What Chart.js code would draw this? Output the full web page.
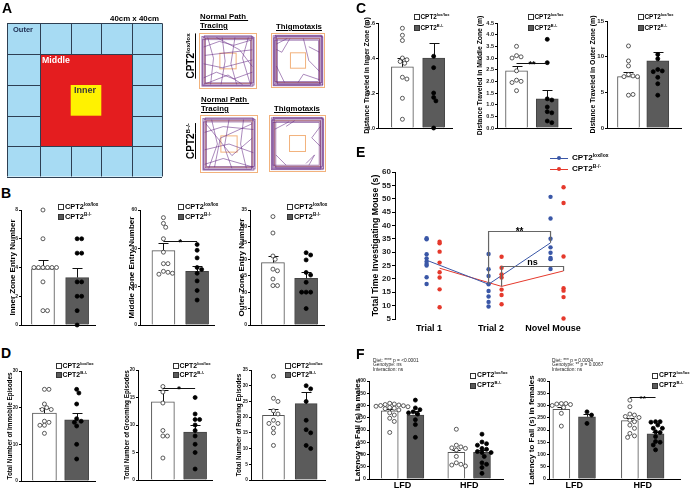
<!DOCTYPE html>
<html><head><meta charset="utf-8">
<script src="https://cdn.jsdelivr.net/npm/chart.js@4.4.1/dist/chart.umd.min.js"></script>
<style>
html,body{margin:0;padding:0;background:#fff;}
body{width:695px;height:490px;overflow:hidden;position:relative;font-family:"Liberation Sans",Arial,Helvetica,sans-serif;color:#000;}
.t{position:absolute;white-space:nowrap;font-weight:bold;line-height:1;}
.u{text-decoration:underline;}
.sp{font-size:62%;position:relative;top:-0.6em;}
canvas{display:block;}
</style></head><body>
<script>
// ---------------- DATA ----------------
const genoBase = 'CPT2';
const genoSup = ['lox/lox', 'B-/-'];

// Panel B
const bInnerLox = [8, 6, 4, 4, 4, 4, 4, 4, 3, 1, 1];
const bInnerKo = [6, 6, 5, 5, 3, 3, 2, 2, 1, 0];
const bInnerMean = [3.9, 3.3];
const bInnerSem = [0.65, 0.68];
const bMiddleLox = [56, 53, 51, 45, 38, 32, 32, 28, 27.5, 26.5, 27];
const bMiddleKo = [42, 39, 35, 30, 29, 27, 23, 18, 13];
const bMiddleMean = [38.8, 28];
const bMiddleSem = [3.8, 2.6];
const bOuterLox = [33, 28, 21, 20, 17, 16.5, 14, 12, 12];
const bOuterKo = [22, 21.3, 19.8, 16, 15.2, 13, 10, 10, 10, 5];
const bOuterMean = [19, 14.2];
const bOuterSem = [2.1, 1.8];

// Panel C
const cInnerLox = [0.57, 0.53, 0.50, 0.40, 0.39, 0.38, 0.37, 0.29, 0.28, 0.17, 0.05];
const cInnerKo = [0.41, 0.345, 0.20, 0.175, 0.155, 0.0];
const cInnerMean = [0.35, 0.40];
const cInnerSem = [0.05, 0.085];
const cMiddleLox = [3.5, 3.1, 3.05, 3.0, 2.45, 2.05, 2.0, 1.95, 1.6];
const cMiddleKo = [3.8, 2.8, 1.25, 1.2, 0.9, 0.7, 0.65, 0.3, 0.23];
const cMiddleMean = [2.45, 1.25];
const cMiddleSem = [0.2, 0.37];
const cOuterLox = [11.5, 9.4, 8.7, 7.5, 7.3, 7.2, 7.2, 4.6, 4.7];
const cOuterKo = [10.3, 9.7, 8.2, 8.0, 7.9, 7.1, 6.2, 4.6];
const cOuterMean = [7.2, 9.4];
const cOuterSem = [0.7, 1.2];

// Panel D
const dImmobileLox = [25, 25, 21, 20, 19.5, 19.5, 16.3, 16, 15.2, 15.2, 13];
const dImmobileKo = [25, 24, 21, 17, 16.3, 16, 15, 10, 6];
const dImmobileMean = [18.5, 16.7];
const dImmobileSem = [1.3, 1.8];
const dGroomingLox = [17, 16, 14, 9, 8, 8, 4];
const dGroomingKo = [15, 12, 11, 11, 10, 9, 8, 6.5, 5, 2];
const dGroomingMean = [14.2, 8.7];
const dGroomingSem = [2.1, 1.3];
const dRearingLox = [33, 26, 25, 22, 21, 19, 18, 18, 16.5, 15, 11];
const dRearingKo = [30, 29, 25, 19, 16, 15, 11, 10];
const dRearingMean = [20.6, 24.3];
const dRearingSem = [1.9, 3.8];

// Panel E
const trials = ['Trial 1', 'Trial 2', 'Novel Mouse'];
const eLoxPts = [[35.2, 34.8, 29.2, 27.7, 26.5, 25.6, 25.0, 20.6, 18.1],
                 [29.3, 23.6, 21.1, 18.0, 15.5, 13.4, 11.4, 9.7],
                 [50.7, 42.6, 35.0, 31.8, 29.8, 27.8, 27.4, 23.7]];
const eKoPts = [[33.9, 33.3, 30.2, 26.1, 22.5, 20.5, 16.1, 9.4],
                [28.3, 24.2, 21.7, 20.5, 16.0, 14.0, 10.5],
                [54.3, 48.4, 28.4, 16.5, 15.6, 13.2, 5.2]];
const eLoxMean = [27, 18, 33.5];
const eKoMean = [24, 17.2, 23];

// Panel F
const diets = ['LFD', 'HFD'];
const fMaleLox = [[309, 306, 304, 302, 300, 299, 297, 295, 292, 289, 287, 282, 270, 261, 248, 235, 190],
                  [203, 138, 131, 127, 125, 118, 92, 66, 60, 57, 53]];
const fMaleKo = [[322, 290, 283, 274, 270, 265, 242, 222, 170],
                 [183, 151, 144, 138, 125, 121, 112, 108, 108, 92, 66, 60, 47, 23]];
const fMaleMean = [[278, 109], [261, 109]];
const fMaleSem = [[8, 9], [18, 9]];
const fFemaleLox = [[308, 308, 306, 304, 300, 292, 268, 216],
                    [322, 295, 265, 261, 255, 251, 240, 234, 220, 207, 186, 176, 170]];
const fFemaleKo = [[274, 261, 227],
                   [234, 234, 232, 220, 207, 207, 193, 190, 173, 153, 150, 139, 119]];
const fFemaleMean = [[284, 238], [254, 184]];
const fFemaleSem = [[10, 12], [13, 8]];
const fMaleStats = ['Diet: **** p = &lt;0.0001', 'Genotype: ns', 'Interaction: ns'];
const fFemaleStats = ['Diet: *** p = 0.0004', 'Genotype: ** p = 0.0067', 'Interaction: ns'];

// ---------------- HELPERS ----------------
const FONT = '"Liberation Sans", Arial, Helvetica, sans-serif';
const BLUE = '#3a57a7', RED = '#e5392c', DARK = '#5b5b5b';
Chart.defaults.font.family = FONT;
Chart.defaults.animation = false;

function addCanvas(left, top, w, h) {
  const c = document.createElement('canvas');
  c.width = w; c.height = h;
  c.style.cssText = `position:absolute;left:${left}px;top:${top}px;width:${w}px;height:${h}px;`;
  document.body.appendChild(c);
  return c;
}
function txt(x, y, html, fs, extra) {
  const d = document.createElement('div');
  d.className = 't';
  d.style.cssText = `left:${x}px;top:${y}px;font-size:${fs}px;` + (extra || '');
  d.innerHTML = html;
  document.body.appendChild(d);
  return d;
}
function legend(x, yc1, yc2, fs, bs) {
  [[yc1, '#fff', genoSup[0]], [yc2, DARK, genoSup[1]]].forEach(([yc, col, sup]) => {
    const r = document.createElement('div');
    r.style.cssText = `position:absolute;left:${x}px;top:${yc - bs / 2}px;height:${bs}px;display:flex;align-items:center;white-space:nowrap;`;
    r.innerHTML = `<span style="display:inline-block;width:${bs}px;height:${bs}px;box-sizing:border-box;border:1px solid #333;background:${col}"></span>` +
      `<span style="font-weight:bold;font-size:${fs}px;line-height:${bs}px;margin-left:1px">${genoBase}<span class="sp">${sup}</span></span>`;
    document.body.appendChild(r);
  });
}
function swarm(vals, pyu, pxu, r) {
  const placed = [], out = [];
  vals.forEach(v => {
    const y = v * pyu;
    let off = 0;
    for (let i = 0; i < 60; i++) {
      off = i === 0 ? 0 : (i % 2 ? 1 : -1) * Math.ceil(i / 2) * r * 1.1;
      if (placed.every(p => Math.hypot(p[0] - off, p[1] - y) >= 1.9 * r)) break;
    }
    placed.push([off, y]);
    out.push(off / pxu);
  });
  return out;
}
function mkAnnot(errs, brackets, after) {
  return {
    id: 'annot',
    afterDatasetDraw(chart, args) {
      if (args.index !== after) return;
      const ctx = chart.ctx, xs = chart.scales.x, ys = chart.scales.y;
      ctx.save(); ctx.lineWidth = 1; ctx.strokeStyle = '#111';
      errs.forEach(e => {
        const px = Math.round(xs.getPixelForValue(e.x)) + 0.5;
        const p0 = ys.getPixelForValue(e.y0), p1 = Math.round(ys.getPixelForValue(e.y1)) + 0.5;
        ctx.beginPath(); ctx.moveTo(px, p0); ctx.lineTo(px, p1);
        ctx.moveTo(px - e.cap, p1); ctx.lineTo(px + e.cap, p1); ctx.stroke();
      });
      ctx.restore();
    },
    afterDraw(chart) {
      const ctx = chart.ctx, xs = chart.scales.x, ys = chart.scales.y;
      ctx.save();
      brackets.forEach(b => {
        const X0 = xs.getPixelForValue(b.x0), X1 = xs.getPixelForValue(b.x1);
        const Y = Math.round(ys.getPixelForValue(b.y)) + 0.5;
        ctx.strokeStyle = b.color || '#111'; ctx.lineWidth = b.lw || 1;
        ctx.beginPath();
        ctx.moveTo(X0, b.l0 != null ? ys.getPixelForValue(b.l0) : Y);
        ctx.lineTo(X0, Y); ctx.lineTo(X1, Y);
        ctx.lineTo(X1, b.l1 != null ? ys.getPixelForValue(b.l1) : Y);
        ctx.stroke();
        ctx.fillStyle = '#000'; ctx.font = `bold ${b.fs}px ${FONT}`;
        ctx.textAlign = 'center'; ctx.textBaseline = 'alphabetic';
        ctx.fillText(b.text, (X0 + X1) / 2 + (b.dx || 0), Y + b.dy);
      });
      ctx.restore();
    }
  };
}
function yAxis(o) {
  return {
    type: 'linear', min: o.min || 0, max: o.max,
    afterFit: s => { s.width = o.yw; },
    ticks: { stepSize: o.step, font: { size: o.kfs, weight: 'bold' }, color: '#222', padding: 1,
      callback: v => o.fmt ? Number(v).toFixed(o.fmt) : Math.round(v * 100) / 100 },
    grid: { drawOnChartArea: false, tickLength: o.tl || 2, color: '#000', lineWidth: 1 },
    border: { color: '#000', width: 1 },
    title: { display: true, text: o.title, font: { size: o.tfs, weight: 'bold' }, color: '#000', padding: 0 }
  };
}

// ---------------- SMALL BAR CHARTS (B, C, D) ----------------
function makeSmall(o) {
  const padT = o.padT || 5, padB = o.padB || 3, xh = 2, plotW = 76;
  const left = o.ax - o.yw, top = o.top0 - padT;
  const W = o.yw + plotW + 3, H = (o.zero - o.top0) + padT + padB + xh;
  const cv = addCanvas(left, top, W, H);
  const xmin = (o.ax - o.c0) / o.sp, xmax = xmin + plotW / o.sp;
  const pyu = (o.zero - o.top0) / o.yMax;
  const datasets = [{
    type: 'bar', order: 2, clip: false,
    data: o.mean.map((m, i) => ({ x: i, y: m })),
    backgroundColor: ['#fff', DARK], borderColor: ['#555', '#444'], borderWidth: 1,
    barThickness: o.bw, grouped: false
  }];
  o.pts.forEach((arr, i) => {
    const sw = swarm(arr, pyu, o.sp, 2.1);
    datasets.push({
      type: 'scatter', order: 1, clip: false,
      data: arr.map((v, k) => ({ x: i + sw[k], y: v })),
      pointRadius: 2, pointBackgroundColor: i ? '#000' : '#fff',
      pointBorderColor: i ? '#000' : '#333', pointBorderWidth: 0.8
    });
  });
  const errs = o.mean.map((m, i) => ({ x: i, y0: m, y1: m + o.sem[i], cap: 5 }));
  const brs = o.br ? [{ x0: 0, x1: 1, y: o.br.y, text: o.br.text, fs: 9, dy: 3 }] : [];
  new Chart(cv, {
    type: 'scatter',
    data: { datasets },
    options: {
      responsive: false, animation: false,
      layout: { padding: { top: padT, bottom: padB, left: 0, right: 3 } },
      plugins: { legend: { display: false }, tooltip: { enabled: false } },
      scales: {
        x: { type: 'linear', min: xmin, max: xmax, offset: false,
             afterFit: s => { s.height = xh; },
             ticks: { display: false }, grid: { display: true, drawOnChartArea: false, drawTicks: false, offset: false },
             border: { color: '#000', width: 1 } },
        y: yAxis({ max: o.yMax, step: o.step, yw: o.yw, kfs: o.kfs, tfs: o.tfs, title: o.title, fmt: o.fmt })
      }
    },
    plugins: [mkAnnot(errs, brs, 0)]
  });
  legend(o.leg[0], o.leg[1], o.leg[2], o.leg[3], o.leg[4]);
}

const smallSpecs = [
  { ax: 21, top0: 210, zero: 325, c0: 43.5, sp: 35, bw: 23, yMax: 8, step: 2, title: 'Inner Zone Entry Number', tfs: 8, kfs: 5, yw: 13,
    pts: [bInnerLox, bInnerKo], mean: bInnerMean, sem: bInnerSem, leg: [58, 207, 217, 7.4, 6] },
  { ax: 140, top0: 210, zero: 325, c0: 164, sp: 34.5, bw: 23, yMax: 60, step: 20, title: 'Middle Zone Entry Number', tfs: 8, kfs: 5, yw: 13,
    pts: [bMiddleLox, bMiddleKo], mean: bMiddleMean, sem: bMiddleSem, br: { y: 43.8, text: '*' }, leg: [178, 207, 217, 7.4, 6] },
  { ax: 250, top0: 210, zero: 325, c0: 273.5, sp: 34, bw: 23, yMax: 35, step: 5, title: 'Outer Zone Entry Number', tfs: 8, kfs: 5, yw: 13,
    pts: [bOuterLox, bOuterKo], mean: bOuterMean, sem: bOuterSem, leg: [287, 207, 217, 7.4, 6] },
  { ax: 378, top0: 23, zero: 128, c0: 403, sp: 32, bw: 22, yMax: 0.6, step: 0.2, fmt: 1, title: 'Distance Traveled in Inner Zone (m)', tfs: 6.9, kfs: 5.5, yw: 15,
    padT: 18, padB: 8, pts: [cInnerLox, cInnerKo], mean: cInnerMean, sem: cInnerSem, leg: [414, 17, 28, 6.4, 5.5] },
  { ax: 497, top0: 23, zero: 128, c0: 517, sp: 31.5, bw: 22, yMax: 4.5, step: 0.5, fmt: 1, title: 'Distance Traveled in Middle Zone (m)', tfs: 6.8, kfs: 5.5, yw: 21,
    padT: 18, padB: 8, pts: [cMiddleLox, cMiddleKo], mean: cMiddleMean, sem: cMiddleSem, br: { y: 2.8, text: '**' }, leg: [528, 17, 28, 6.4, 5.5] },
  { ax: 607, top0: 20.6, zero: 128, c0: 629, sp: 30, bw: 22, yMax: 15, step: 5, title: 'Distance Traveled in Outer Zone (m)', tfs: 6.9, kfs: 6, yw: 18,
    padT: 18, padB: 8, pts: [cOuterLox, cOuterKo], mean: cOuterMean, sem: cOuterSem, leg: [638, 17, 28, 6.4, 5.5] },
  { ax: 21, top0: 371, zero: 481, c0: 45, sp: 33, bw: 24, yMax: 30, step: 10, title: 'Total Number of Immobile Episodes', tfs: 6.3, kfs: 4.8, yw: 15,
    padT: 8, pts: [dImmobileLox, dImmobileKo], mean: dImmobileMean, sem: dImmobileSem, leg: [56, 366, 375, 6.9, 5.5] },
  { ax: 138, top0: 370, zero: 480, c0: 163.5, sp: 33, bw: 23, yMax: 20, step: 5, title: 'Total Number of Grooming Episodes', tfs: 6.3, kfs: 4.8, yw: 15,
    padT: 8, pts: [dGroomingLox, dGroomingKo], mean: dGroomingMean, sem: dGroomingSem, br: { y: 16.7, text: '*' }, leg: [173, 366, 375, 6.9, 5.5] },
  { ax: 251, top0: 370, zero: 480, c0: 274, sp: 33.5, bw: 22, yMax: 35, step: 5, title: 'Total Number of Rearing Episodes', tfs: 6.3, kfs: 4.8, yw: 16,
    padT: 8, pts: [dRearingLox, dRearingKo], mean: dRearingMean, sem: dRearingSem, leg: [285, 366, 375, 6.9, 5.5] }
];
smallSpecs.forEach(makeSmall);

// ---------------- PANEL E ----------------
(function () {
  const ax = 395, top0 = 172, zero = 319, padT = 6, padB = 2, xh = 14, yw = 25;
  const xmin = -0.55, xmax = 2.5, plotW = 189;
  const cv = addCanvas(ax - yw, top0 - padT, yw + plotW + 12, (zero - top0) + padT + padB + xh);
  const oL = -0.04, oK = 0.17;
  const datasets = [
    { type: 'line', order: 3, clip: false, data: trials.map((t, i) => ({ x: i + oL, y: eLoxMean[i] })), borderColor: BLUE, borderWidth: 1, pointRadius: 0, fill: false },
    { type: 'line', order: 3, clip: false, data: trials.map((t, i) => ({ x: i + oK, y: eKoMean[i] })), borderColor: RED, borderWidth: 1, pointRadius: 0, fill: false },
    { type: 'scatter', order: 1, clip: false, data: eLoxPts.flatMap((a, i) => a.map(v => ({ x: i + oL, y: v }))), pointRadius: 2.2, pointBackgroundColor: BLUE, pointBorderWidth: 0 },
    { type: 'scatter', order: 1, clip: false, data: eKoPts.flatMap((a, i) => a.map(v => ({ x: i + oK, y: v }))), pointRadius: 2.2, pointBackgroundColor: RED, pointBorderWidth: 0 }
  ];
  const brs = [
    { x0: 1 + oL, x1: 2 + oL, y: 38, l0: eLoxMean[1], l1: eLoxMean[2], text: '**', fs: 10, dy: 3, color: '#666', lw: 1.2 },
    { x0: 1 + oK, x1: 2 + oK, y: 25, l0: eKoMean[1], l1: eKoMean[2], text: 'ns', fs: 9, dy: -1.5, color: '#666', lw: 1.2 }
  ];
  new Chart(cv, {
    type: 'scatter',
    data: { datasets },
    options: {
      responsive: false, animation: false,
      layout: { padding: { top: padT, bottom: padB, left: 0, right: 12 } },
      plugins: { legend: { display: false }, tooltip: { enabled: false } },
      scales: {
        x: { type: 'linear', min: xmin, max: xmax, offset: false,
             afterFit: s => { s.height = xh; },
             afterBuildTicks: s => { s.ticks = trials.map((t, i) => ({ value: i })); },
             ticks: { autoSkip: false, maxRotation: 0, padding: 4, font: { size: 9, weight: 'bold' }, color: '#000', callback: v => trials[v] },
             grid: { display: false, drawTicks: false }, border: { display: false } },
        y: yAxis({ min: 5, max: 60, step: 5, yw: yw, kfs: 8, tfs: 8.7, tl: 3, title: 'Total Time Investigating Mouse (s)' })
      }
    },
    plugins: [mkAnnot([], brs, -1)]
  });
  [[158, BLUE, genoSup[0]], [169, RED, genoSup[1]]].forEach(([yc, col, sup]) => {
    const l = document.createElement('div');
    l.style.cssText = `position:absolute;left:550px;top:${yc - 0.5}px;width:18px;height:1px;background:${col}`;
    document.body.appendChild(l);
    const d = document.createElement('div');
    d.style.cssText = `position:absolute;left:557px;top:${yc - 2}px;width:4px;height:4px;border-radius:50%;background:${col}`;
    document.body.appendChild(d);
    txt(572, yc - 5, `${genoBase}<span class="sp">${sup}</span>`, 8.1, 'line-height:10px;');
  });
})();

// ---------------- PANEL F ----------------
function makeF(o) {
  const top0 = 381, zero = 479, padT = 9, xh = 11;
  const W = o.yw + (o.right - o.ax) + 3, H = (zero - top0) + padT + xh;
  const cv = addCanvas(o.ax - o.yw, top0 - padT, W, H);
  const xmin = (o.ax - o.gc0) / o.sp, xmax = (o.right - o.gc0) / o.sp;
  const off = o.off / o.sp;
  const pyu = (zero - top0) / 400;
  const datasets = [
    { type: 'bar', order: 4, clip: false, data: diets.map((d, i) => ({ x: i - off, y: o.mean[0][i] })), backgroundColor: '#fff', borderColor: '#555', borderWidth: 1, barThickness: o.bw, grouped: false },
    { type: 'bar', order: 3, clip: false, data: diets.map((d, i) => ({ x: i + off, y: o.mean[1][i] })), backgroundColor: DARK, borderColor: '#444', borderWidth: 1, barThickness: o.bw, grouped: false }
  ];
  [0, 1].forEach(g => {
    const pts = [];
    diets.forEach((d, i) => {
      const sw = swarm(o.pts[g][i], pyu, o.sp, 2.1);
      o.pts[g][i].forEach((v, k) => pts.push({ x: i + (g ? off : -off) + sw[k], y: v }));
    });
    datasets.push({ type: 'scatter', order: 1, clip: false, data: pts, pointRadius: 2, pointBackgroundColor: g ? '#000' : '#fff', pointBorderColor: g ? '#000' : '#333', pointBorderWidth: 0.8 });
  });
  const errs = [];
  [0, 1].forEach(g => diets.forEach((d, i) => errs.push({ x: i + (g ? off : -off), y0: o.mean[g][i], y1: o.mean[g][i] + o.sem[g][i], cap: 4 })));
  const brs = o.br ? [{ x0: 1 - off, x1: 1 + off, y: o.br, text: '**', fs: 8, dy: 3 }] : [];
  new Chart(cv, {
    type: 'scatter',
    data: { datasets },
    options: {
      responsive: false, animation: false,
      layout: { padding: { top: padT, bottom: 0, left: 0, right: 3 } },
      plugins: { legend: { display: false }, tooltip: { enabled: false } },
      scales: {
        x: { type: 'linear', min: xmin, max: xmax, offset: false,
             afterFit: s => { s.height = xh; },
             afterBuildTicks: s => { s.ticks = diets.map((d, i) => ({ value: i })); },
             ticks: { autoSkip: false, maxRotation: 0, padding: 1, font: { size: 9, weight: 'bold' }, color: '#000', callback: v => diets[v] },
             grid: { display: true, drawOnChartArea: false, drawTicks: false, offset: false }, border: { color: '#000', width: 1 } },
        y: yAxis({ max: 400, step: 50, yw: o.yw, kfs: 5.2, tfs: 8, title: o.title })
      }
    },
    plugins: [mkAnnot(errs, brs, 1)]
  });
  legend(o.leg[0], 375.5, 385.5, 6.8, 6);
  txt(o.statX, 358.5, o.stats.join('<br>'), 4.8, 'font-weight:normal;line-height:4.5px;color:#222;');
}
makeF({ ax: 369, right: 505, gc0: 403, sp: 67.5, off: 13, bw: 17, yw: 16, title: 'Latency to Fall (s) in males',
        mean: fMaleMean, sem: fMaleSem, pts: [fMaleLox, fMaleKo], leg: [470], statX: 373, stats: fMaleStats });
makeF({ ax: 549, right: 682, gc0: 574.5, sp: 69.5, off: 13, bw: 17, yw: 22, title: 'Latency to Fall (s) in females',
        mean: fFemaleMean, sem: fFemaleSem, pts: [fFemaleLox, fFemaleKo], leg: [652], statX: 552, stats: fFemaleStats, br: 335 });

// ---------------- PANEL A (diagram) ----------------
(function () {
  const xs = [7, 40, 70.7, 101.3, 131.7, 162], ys = [23.3, 54, 85, 115.7, 146, 176.5];
  const c = addCanvas(0, 0, 180, 185);
  const g = c.getContext('2d');
  g.fillStyle = '#a7dbf3'; g.fillRect(xs[0], ys[0], xs[5] - xs[0], ys[5] - ys[0]);
  g.strokeStyle = '#2e3f52'; g.lineWidth = 1;
  xs.forEach(x => { g.beginPath(); g.moveTo(Math.round(x) + 0.5, ys[0]); g.lineTo(Math.round(x) + 0.5, ys[5]); g.stroke(); });
  ys.forEach(y => { g.beginPath(); g.moveTo(xs[0], Math.round(y) + 0.5); g.lineTo(xs[5], Math.round(y) + 0.5); g.stroke(); });
  g.fillStyle = '#e41d1f'; g.fillRect(Math.round(xs[1]) + 1, Math.round(ys[1]) + 1, Math.round(xs[4]) - Math.round(xs[1]) - 1, Math.round(ys[4]) - Math.round(ys[1]) - 1);
  g.fillStyle = '#fff200'; g.fillRect(xs[2], ys[2], xs[3] - xs[2], ys[3] - ys[2]);
})();
txt(110, 15, '40cm x 40cm', 7.9);
txt(13, 26, 'Outer', 7.5, 'color:#1c2b4f;');
txt(42, 56, 'Middle', 8.8, 'color:#fff;');
txt(74, 86, 'Inner', 9, 'color:#3a3a3a;');

function trace(x, y, w, h, loops, paths) {
  const c = addCanvas(x, y, w, h);
  const g = c.getContext('2d');
  g.strokeStyle = '#f2b27c'; g.lineWidth = 1;
  g.strokeRect(0.5, 0.5, w - 1, h - 1);
  g.strokeRect(w * 0.1, h * 0.1, w * 0.8, h * 0.8);
  g.strokeRect(w * 0.36, h * 0.36, w * 0.28, h * 0.28);
  g.strokeStyle = 'rgba(105,45,135,0.8)'; g.lineWidth = 0.7;
  loops.forEach(([l, t, r, b]) => { g.strokeRect(w * l, h * t, w * (1 - l - r), h * (1 - t - b)); });
  paths.forEach(p => { g.beginPath(); p.forEach(([a, b], i) => i ? g.lineTo(a * w, b * h) : g.moveTo(a * w, b * h)); g.stroke(); });
}
const loopsN = [[0.05, 0.06, 0.07, 0.05], [0.07, 0.08, 0.05, 0.07], [0.09, 0.05, 0.09, 0.09], [0.11, 0.1, 0.06, 0.11], [0.06, 0.12, 0.11, 0.06]];
const loopsT = [[0.04, 0.05, 0.05, 0.04], [0.06, 0.07, 0.04, 0.06], [0.08, 0.04, 0.07, 0.08], [0.05, 0.09, 0.09, 0.05], [0.1, 0.06, 0.06, 0.1], [0.12, 0.11, 0.1, 0.07], [0.07, 0.13, 0.12, 0.12]];
const pathsN = [
  [[0.08, 0.25], [0.35, 0.15], [0.6, 0.22], [0.92, 0.12]], [[0.15, 0.08], [0.25, 0.45], [0.2, 0.92]],
  [[0.4, 0.08], [0.45, 0.5], [0.38, 0.92]], [[0.62, 0.08], [0.55, 0.55], [0.65, 0.92]],
  [[0.85, 0.08], [0.75, 0.45], [0.88, 0.9]], [[0.08, 0.55], [0.4, 0.62], [0.92, 0.48]],
  [[0.08, 0.8], [0.3, 0.7], [0.6, 0.82], [0.92, 0.7]], [[0.1, 0.4], [0.5, 0.35], [0.92, 0.3]],
  [[0.3, 0.08], [0.7, 0.3], [0.92, 0.6]], [[0.08, 0.92], [0.5, 0.75], [0.75, 0.92]]
];
const pathsN2 = [
  [[0.08, 0.3], [0.4, 0.2], [0.92, 0.25]], [[0.2, 0.08], [0.3, 0.5], [0.15, 0.92]],
  [[0.5, 0.08], [0.42, 0.55], [0.55, 0.92]], [[0.75, 0.08], [0.7, 0.5], [0.8, 0.92]],
  [[0.08, 0.6], [0.5, 0.5], [0.92, 0.65]], [[0.08, 0.85], [0.4, 0.75], [0.92, 0.9]],
  [[0.1, 0.15], [0.55, 0.7], [0.9, 0.4]], [[0.9, 0.15], [0.35, 0.4], [0.25, 0.9]]
];
const pathsT = [
  [[0.1, 0.2], [0.3, 0.1]], [[0.6, 0.1], [0.7, 0.5], [0.9, 0.7]], [[0.1, 0.6], [0.25, 0.9]],
  [[0.35, 0.1], [0.2, 0.35], [0.1, 0.3]], [[0.9, 0.35], [0.7, 0.25]], [[0.5, 0.9], [0.6, 0.75], [0.9, 0.85]]
];
const pathsT2 = [
  [[0.1, 0.25], [0.35, 0.12]], [[0.9, 0.2], [0.75, 0.4], [0.9, 0.55]], [[0.12, 0.7], [0.3, 0.88]],
  [[0.7, 0.88], [0.8, 0.7], [0.65, 0.85]], [[0.45, 0.1], [0.3, 0.2]]
];
trace(199, 33, 58, 56, loopsN, pathsN);
trace(271, 33, 54, 55, loopsT, pathsT);
trace(200, 115, 58, 58, loopsN, pathsN2);
trace(269, 115, 57, 57, loopsT, pathsT2);
txt(200, 13, 'Normal Path&nbsp;', 7.8, 'text-decoration:underline;');
txt(200, 22, 'Tracing', 7.8, 'text-decoration:underline;');
txt(276, 23, 'Thigmotaxis', 7.8, 'text-decoration:underline;');
txt(201, 96, 'Normal Path&nbsp;', 7.8, 'text-decoration:underline;');
txt(201, 105, 'Tracing', 7.8, 'text-decoration:underline;');
txt(274, 105, 'Thigmotaxis', 7.8, 'text-decoration:underline;');
[[56, genoSup[0]], [141, genoSup[1]]].forEach(([yc, sup]) => {
  txt(191, yc, `${genoBase}<span class="sp">${sup}</span>`, 10, 'text-decoration:underline;transform:translate(-50%,-50%) rotate(-90deg);');
});

// ---------------- PANEL LETTERS ----------------
[['A', 2, 1], ['B', 1, 186], ['C', 356, 1], ['D', 1, 346], ['E', 356, 145], ['F', 356, 347]].forEach(([l, x, y]) => txt(x, y, l, 14));
</script>
</body></html>
